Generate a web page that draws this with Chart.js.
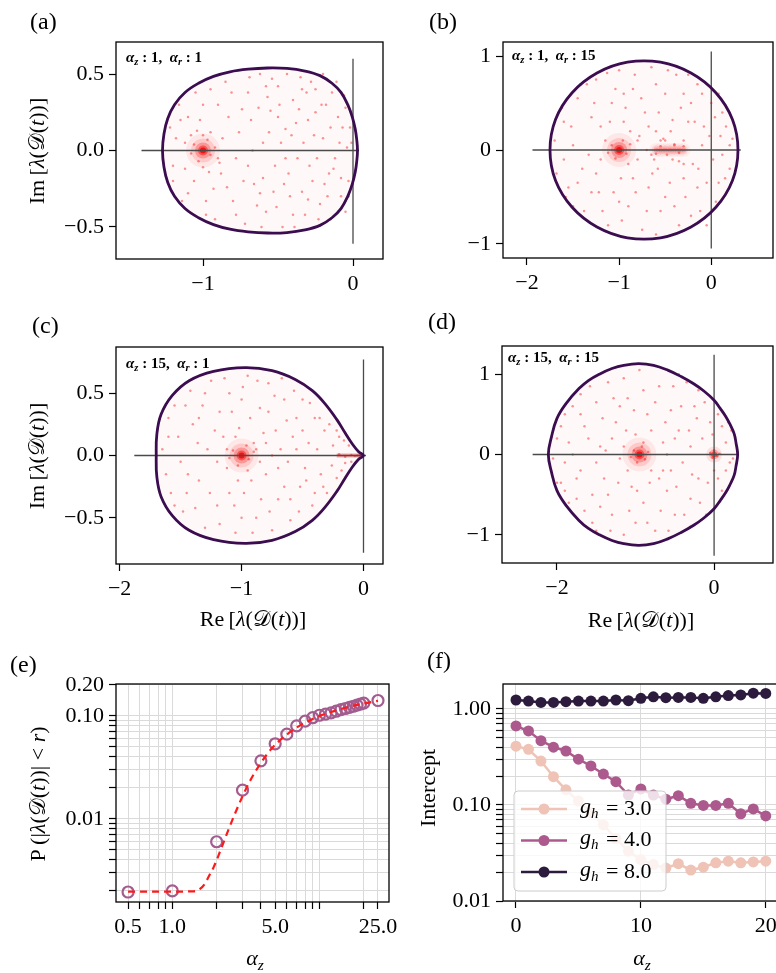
<!DOCTYPE html>
<html>
<head>
<meta charset="utf-8">
<script src="https://cdn.jsdelivr.net/npm/chart.js@4.4.1/dist/chart.umd.min.js"></script>
<style>
  body { margin: 0; width: 776px; height: 973px; overflow: hidden; background: #fff; position: relative;
         font-family: 'Liberation Serif', 'DejaVu Serif', serif; color: #000; }
  .box { position: absolute; }
  .t { position: absolute; white-space: nowrap; line-height: 1; }
  .pl { font-size: 24px; }
  .ax { font-size: 22px; transform: translate(-50%, -50%); }
  .ay { font-size: 22px; transform: translate(-50%, -50%) rotate(-90deg); }
  .an { font-size: 15px; font-weight: bold; }
  sub { font-size: 70%; vertical-align: -0.3em; line-height: 0; }
</style>
</head>
<body>
<div class="box" id="pa"><canvas id="ca"></canvas></div>
<div class="box" id="pb"><canvas id="cb"></canvas></div>
<div class="box" id="pc"><canvas id="cc"></canvas></div>
<div class="box" id="pd"><canvas id="cd"></canvas></div>
<div class="box" id="pe"><canvas id="ce"></canvas></div>
<div class="box" id="pf"><canvas id="cf"></canvas></div>

<div class="t pl" style="left:30px;top:9px">(a)</div>
<div class="t pl" style="left:429px;top:9px">(b)</div>
<div class="t pl" style="left:32px;top:313px">(c)</div>
<div class="t pl" style="left:428px;top:309px">(d)</div>
<div class="t pl" style="left:10px;top:652px">(e)</div>
<div class="t pl" style="left:427px;top:648px">(f)</div>

<div class="t an" style="left:126px;top:50px"><i>α<sub>z</sub></i> : 1, &nbsp;<i>α<sub>r</sub></i> : 1</div>
<div class="t an" style="left:512px;top:48px"><i>α<sub>z</sub></i> : 1, &nbsp;<i>α<sub>r</sub></i> : 15</div>
<div class="t an" style="left:126px;top:356px"><i>α<sub>z</sub></i> : 15, &nbsp;<i>α<sub>r</sub></i> : 1</div>
<div class="t an" style="left:508px;top:350px"><i>α<sub>z</sub></i> : 15, &nbsp;<i>α<sub>r</sub></i> : 15</div>

<div class="t ay" style="left:37px;top:151px">Im&thinsp;[<i>λ</i>(𝒟(<i>t</i>))]</div>
<div class="t ay" style="left:37px;top:456px">Im&thinsp;[<i>λ</i>(𝒟(<i>t</i>))]</div>
<div class="t ax" style="left:253px;top:619px">Re&thinsp;[<i>λ</i>(𝒟(<i>t</i>))]</div>
<div class="t ax" style="left:641px;top:620px">Re&thinsp;[<i>λ</i>(𝒟(<i>t</i>))]</div>
<div class="t ay" style="left:38px;top:794px">P&thinsp;(|<i>λ</i>(𝒟(<i>t</i>))| &lt; <i>r</i>)</div>
<div class="t ay" style="left:428px;top:788px">Intercept</div>
<div class="t ax" style="left:255px;top:958px"><i>α<sub>z</sub></i></div>
<div class="t ax" style="left:642px;top:958px"><i>α<sub>z</sub></i></div>

<script>
// ---- eigenvalue clouds (a)-(d) ----
var dotsA = [[-1.15,0.2],[-1.1,-0.28],[-1.05,0.38],[-0.98,-0.42],[-0.9,0.3],[-0.88,-0.15],[-0.85,0.45],[-0.8,-0.33],[-0.76,0.12],[-0.72,-0.48],[-0.7,0.38],[-0.66,-0.22],[-0.62,0.5],[-0.6,0.05],[-0.58,-0.4],[-0.55,0.26],[-0.52,-0.1],[-0.5,0.42],[-0.47,-0.5],[-0.45,0.14],[-0.42,-0.3],[-0.4,0.33],[-0.37,-0.05],[-0.35,0.48],[-0.32,-0.42],[-0.3,0.2],[-0.27,-0.2],[-0.25,0.4],[-0.22,-0.35],[-0.2,0.08],[-0.18,0.3],[-0.15,-0.45],[-0.13,-0.12],[-0.1,0.22],[-0.08,-0.3],[-0.06,0.36],[-0.04,0.02],[-0.03,-0.2],[-0.02,0.15],[-1.2,-0.1],[-1.18,0.08],[-1.12,-0.12],[-0.95,0.12],[-0.93,-0.25],[-1.02,0.2],[-1.08,0.1],[-0.9,-0.05],[-0.83,0.22],[-0.78,-0.05],[-0.68,0.2],[-0.64,-0.36],[-0.57,0.35],[-0.53,-0.27],[-0.48,0.05],[-0.43,-0.15],[-0.38,0.18],[-0.33,0.05],[-0.28,0.45],[-0.24,-0.05],[-0.19,-0.22],[-0.11,0.45],[-0.09,0.05],[-0.05,-0.4],[-0.7,-0.1],[-0.6,-0.18],[-0.5,0.22],[-0.4,-0.42],[-0.3,-0.32],[-0.2,0.5],[-0.15,0.15],[-1.06,0.04],[-0.95,-0.03],[-1.03,-0.07],[-0.97,0.07],[-1.08,-0.02],[-0.92,0.02],[-1.0,0.1],[-1.0,-0.11],[-1.12,0.05],[-0.89,-0.08],[-1.04,0.13],[-0.96,-0.14],
  [-1.22,0.15],[-1.2,-0.2],[-1.16,0.3],[-1.14,-0.33],[-1.1,0.22],[-1.06,-0.2],[-1.0,0.3],[-0.98,-0.33],[-0.95,0.4],[-0.92,-0.45],[-0.87,0.08],[-0.84,-0.24],[-0.81,0.38],[-0.78,-0.42],[-0.74,0.27],[-0.73,-0.2],[-0.69,0.48],[-0.67,0.0],[-0.63,0.28],[-0.61,-0.5],[-0.56,0.12],[-0.54,0.47],[-0.51,-0.37],[-0.49,0.3],[-0.46,-0.22],[-0.44,0.5],[-0.41,0.1],[-0.39,-0.5],[-0.36,0.27],[-0.34,-0.27],[-0.31,0.38],[-0.29,-0.1],[-0.26,0.1],[-0.23,-0.45],[-0.21,0.3],[-0.17,-0.3],[-0.14,0.38],[-0.12,-0.05],[-0.1,-0.4],[-0.07,0.15],[-0.05,0.28],[-0.03,-0.3],[-0.01,0.05],[-0.62,-0.28],[-0.58,0.42],[-0.45,-0.05],[-0.34,0.4],[-0.25,0.25],[-0.16,-0.15],[-0.08,-0.18]];
var dotsB = [[-1.6,0.3],[-1.55,-0.4],[-1.5,0.05],[-1.45,0.55],[-1.4,-0.2],[-1.38,-0.65],[-1.3,0.35],[-1.25,0.75],[-1.22,-0.45],[-1.15,0.1],[-1.12,-0.8],[-1.08,0.5],[-1.0,0.85],[-0.98,-0.3],[-0.95,0.3],[-0.9,-0.6],[-0.85,0.65],[-0.8,-0.1],[-0.78,0.15],[-0.75,-0.85],[-0.72,0.4],[-0.68,-0.4],[-0.65,0.88],[-0.6,0.2],[-0.58,-0.2],[-0.55,-0.65],[-0.5,0.6],[-0.45,-0.35],[-0.42,0.32],[-0.38,0.8],[-0.35,-0.8],[-0.3,0.1],[-0.28,-0.5],[-0.22,0.5],[-0.2,-0.15],[-0.15,0.7],[-0.12,-0.65],[-0.08,0.25],[-0.05,-0.35],[0.0,0.5],[0.02,-0.1],[0.05,-0.55],[0.1,0.15],[0.12,0.4],[0.15,-0.3],[0.2,0.05],[-1.6,-0.1],[-1.5,-0.6],[-1.35,0.7],[-1.2,-0.1],[-1.1,0.3],[-0.88,0.2],[-0.85,-0.3],[-0.7,0.0],[-0.62,-0.1],[-0.52,0.12],[-0.4,0.05],[-0.35,-0.12],[-0.25,0.3],[-0.15,-0.4],[-0.1,0.05],[0.08,0.6],[-0.95,0.6],[-0.6,-0.9],[-1.0,-0.55],[-0.3,0.6],[-1.08,0.05],[-0.92,-0.04],[-1.04,-0.09],[-0.96,0.1],[-1.12,-0.03],[-0.88,0.06],[-0.55,0.04],[-0.48,-0.05],[-0.4,0.06],[-0.35,-0.03],[-0.5,0.1],[-0.42,-0.1],[-0.6,-0.04],[-0.3,0.04],
  [-1.7,0.1],[-1.68,-0.25],[-1.62,0.45],[-1.58,-0.5],[-1.52,0.25],[-1.45,-0.35],[-1.42,0.7],[-1.33,-0.05],[-1.3,-0.45],[-1.27,0.5],[-1.2,0.25],[-1.18,-0.65],[-1.13,0.82],[-1.06,-0.45],[-1.04,0.65],[-0.97,-0.75],[-0.93,0.45],[-0.9,-0.15],[-0.83,0.8],[-0.82,-0.45],[-0.76,0.55],[-0.7,-0.65],[-0.68,0.25],[-0.64,-0.25],[-0.6,0.7],[-0.57,0.4],[-0.5,-0.5],[-0.47,0.85],[-0.44,0.2],[-0.4,-0.6],[-0.33,0.45],[-0.3,-0.3],[-0.25,0.8],[-0.22,-0.7],[-0.18,0.3],[-0.14,-0.2],[-0.1,0.6],[-0.05,-0.8],[-0.02,0.15],[0.04,0.35],[0.08,-0.35],[0.12,-0.05],[0.16,0.25],[0.2,-0.2],[0.23,0.12],[-0.8,0.1],[-0.55,0.1],[-0.65,-0.05],[-0.3,-0.15],[-1.25,-0.25]];
var dotsC = [[-1.6,0.15],[-1.58,-0.3],[-1.55,0.4],[-1.5,-0.05],[-1.48,-0.45],[-1.42,0.52],[-1.4,0.25],[-1.35,-0.2],[-1.3,-0.58],[-1.28,0.05],[-1.25,0.6],[-1.2,-0.4],[-1.18,0.35],[-1.12,-0.1],[-1.1,0.5],[-1.05,-0.62],[-1.02,0.22],[-0.98,-0.3],[-0.95,0.64],[-0.9,0.1],[-0.88,-0.5],[-0.85,0.38],[-0.8,-0.15],[-0.78,0.58],[-0.75,-0.6],[-0.72,0.2],[-0.7,-0.35],[-0.65,0.45],[-0.62,-0.05],[-0.6,-0.52],[-0.55,0.3],[-0.52,-0.25],[-0.5,0.45],[-0.45,0.1],[-0.42,-0.4],[-0.4,0.3],[-0.35,-0.15],[-0.32,0.2],[-0.3,-0.3],[-0.25,0.08],[-0.22,-0.18],[-0.2,0.15],[-0.15,-0.06],[-0.12,0.08],[-1.45,-0.3],[-1.32,0.4],[-1.15,0.15],[-1.1,-0.3],[-0.85,-0.05],[-0.82,0.18],[-0.68,0.05],[-0.58,0.15],[-0.48,-0.1],[-1.0,0.45],[-1.0,-0.5],[-0.92,-0.2],[-0.65,-0.25],[-0.38,0.05],[-1.2,-0.05],[-0.78,0.35],[-1.07,0.04],[-0.94,-0.03],[-1.03,-0.08],[-0.96,0.08],[-1.1,-0.02],[-0.9,0.03],[-0.2,0.01],[-0.15,-0.01],[-0.1,0.005],[-0.07,-0.005],[-0.05,0.0],[-0.03,0.003],
  [-1.65,0.05],[-1.62,-0.15],[-1.6,0.3],[-1.55,-0.4],[-1.52,0.15],[-1.46,0.4],[-1.44,-0.15],[-1.38,-0.42],[-1.36,0.1],[-1.3,0.5],[-1.26,-0.3],[-1.22,0.2],[-1.18,-0.55],[-1.14,0.62],[-1.08,0.35],[-1.06,-0.4],[-1.03,-0.2],[-0.99,0.55],[-0.93,0.3],[-0.91,-0.62],[-0.87,0.6],[-0.84,-0.35],[-0.8,0.1],[-0.77,-0.45],[-0.73,0.48],[-0.7,-0.1],[-0.67,0.62],[-0.63,0.28],[-0.6,-0.35],[-0.57,0.52],[-0.53,-0.45],[-0.5,0.2],[-0.47,-0.2],[-0.44,0.42],[-0.4,-0.3],[-0.36,0.3],[-0.33,-0.25],[-0.28,0.25],[-0.26,-0.08],[-0.22,0.2],[-0.18,-0.12],[-0.16,0.12],[-0.1,-0.05],[-1.12,0.05],[-0.88,0.05],[-1.05,0.15],[-0.95,-0.12],[-0.75,0.0],[-1.35,0.3],[-0.55,0.05]];
var dotsD = [[-2.0,0.2],[-1.95,-0.35],[-1.9,0.5],[-1.85,-0.6],[-1.8,0.0],[-1.7,0.75],[-1.7,-0.2],[-1.65,0.35],[-1.55,-0.85],[-1.55,-0.5],[-1.5,0.65],[-1.45,0.1],[-1.4,-0.3],[-1.35,0.9],[-1.3,-0.75],[-1.25,0.4],[-1.2,-0.05],[-1.15,-1.0],[-1.1,0.7],[-1.05,-0.4],[-1.0,0.25],[-0.95,1.05],[-0.9,-0.6],[-0.85,0.5],[-0.8,-0.2],[-0.75,-0.95],[-0.7,0.85],[-0.65,0.15],[-0.6,-0.45],[-0.55,0.55],[-0.5,-0.75],[-0.45,0.3],[-0.4,-0.1],[-0.35,0.9],[-0.3,-0.55],[-0.25,0.6],[-0.2,-0.3],[-0.15,0.2],[-0.1,-0.75],[-0.05,0.4],[0.0,-0.2],[0.05,0.5],[0.1,-0.45],[0.15,0.15],[0.2,-0.1],[0.22,0.3],[-1.9,-0.1],[-1.7,0.5],[-1.5,-0.1],[-1.3,0.2],[-1.2,0.6],[-1.1,-0.2],[-0.9,0.15],[-0.8,0.3],[-0.7,-0.3],[-0.6,0.0],[-0.5,0.2],[-0.3,0.1],[-1.0,-0.85],[-0.55,-0.2],[-1.35,-0.5],[-0.2,0.8],[-1.02,0.05],[-0.88,-0.06],[-0.98,-0.1],[-0.92,0.1],[-1.06,-0.03],[-0.84,0.03],[-0.05,0.02],[0.04,-0.02],[0.0,0.05],[-0.02,-0.04],[0.07,0.01],
  [-2.05,-0.05],[-2.0,-0.35],[-1.95,0.35],[-1.9,-0.45],[-1.85,0.15],[-1.8,0.6],[-1.75,-0.55],[-1.65,-0.7],[-1.6,0.2],[-1.58,0.85],[-1.45,-0.65],[-1.42,0.45],[-1.38,0.05],[-1.32,-0.95],[-1.28,0.7],[-1.22,-0.35],[-1.15,0.95],[-1.12,0.3],[-1.08,-0.7],[-1.02,0.55],[-0.98,-0.45],[-0.9,0.8],[-0.85,-0.85],[-0.82,-0.35],[-0.75,0.65],[-0.68,-0.7],[-0.62,0.4],[-0.58,-0.95],[-0.52,0.85],[-0.48,-0.4],[-0.42,0.6],[-0.38,-0.75],[-0.32,0.3],[-0.28,-0.25],[-0.22,0.45],[-0.18,-0.6],[-0.12,0.65],[-0.08,-0.35],[-0.02,0.25],[0.05,-0.3],[0.1,0.35],[0.15,-0.2],[0.18,0.4],[0.24,-0.05],[-0.45,1.0],[-1.5,-0.95],[-1.75,-0.3],[-0.3,-0.9],[-0.65,-0.2],[-1.15,0.1]];

// dense centres of the clouds
var hotA = [[-1, 0]];
var hotB = [[-1, 0]];
var hotB2 = [[-0.6, 0], [-0.55, 0], [-0.5, 0], [-0.45, 0], [-0.4, 0], [-0.35, 0], [-0.3, 0]];
var hotC = [[-1, 0]];
var bandC = [[-0.22, 0], [0, 0]];
var hotD = [[-0.95, 0]];
var hotD2 = [[0, 0]];

// boundary curves (closed loops, last point joins the first)
var bndA = [[0.03,0],[0.025,0.07],[0.015,0.14],[-0.005,0.22],[-0.035,0.3],[-0.08,0.38],[-0.14,0.44],[-0.22,0.49],[-0.32,0.52],[-0.44,0.537],[-0.57,0.54],[-0.7,0.532],[-0.82,0.515],[-0.93,0.485],[-1.03,0.44],[-1.12,0.38],[-1.19,0.3],[-1.235,0.21],[-1.26,0.11],[-1.27,0],
  [-1.26,-0.11],[-1.235,-0.21],[-1.19,-0.3],[-1.12,-0.38],[-1.03,-0.44],[-0.93,-0.485],[-0.82,-0.515],[-0.7,-0.532],[-0.57,-0.54],[-0.44,-0.537],[-0.32,-0.52],[-0.22,-0.49],[-0.14,-0.44],[-0.08,-0.38],[-0.035,-0.3],[-0.005,-0.22],[0.015,-0.14],[0.025,-0.07]];
var bndB = [[0.29,0],[0.23,0.325],[0.05,0.61],[-0.22,0.82],[-0.55,0.935],[-0.91,0.935],[-1.24,0.82],[-1.51,0.61],[-1.69,0.325],[-1.75,0],[-1.69,-0.325],[-1.51,-0.61],[-1.24,-0.82],[-0.91,-0.935],[-0.55,-0.935],[-0.22,-0.82],[0.05,-0.61],[0.23,-0.325]];
var bndC = [[0,0],[-0.04,0.03],[-0.09,0.09],[-0.15,0.18],[-0.22,0.29],[-0.32,0.42],[-0.42,0.52],[-0.56,0.61],[-0.75,0.68],[-0.97,0.705],[-1.23,0.675],[-1.43,0.6],[-1.57,0.48],[-1.66,0.33],[-1.695,0.17],[-1.7,0],[-1.695,-0.17],[-1.66,-0.33],[-1.57,-0.48],[-1.43,-0.6],[-1.23,-0.675],[-0.97,-0.705],[-0.75,-0.68],[-0.56,-0.61],[-0.42,-0.52],[-0.32,-0.42],[-0.22,-0.29],[-0.15,-0.18],[-0.09,-0.09],[-0.04,-0.03]];
var bndD = [[0.3,0],[0.28,0.14],[0.255,0.26],[0.2,0.38],[0.15,0.47],[0.08,0.57],[0,0.675],[-0.13,0.79],[-0.26,0.88],[-0.42,0.97],[-0.59,1.05],[-0.77,1.11],[-0.96,1.13],[-1.15,1.11],[-1.3,1.07],[-1.46,1.0],[-1.6,0.92],[-1.72,0.82],[-1.88,0.64],[-2.0,0.45],[-2.07,0.22],[-2.11,0],
  [-2.07,-0.22],[-2.0,-0.45],[-1.88,-0.64],[-1.72,-0.82],[-1.6,-0.92],[-1.46,-1.0],[-1.3,-1.07],[-1.15,-1.11],[-0.96,-1.13],[-0.77,-1.11],[-0.59,-1.05],[-0.42,-0.97],[-0.26,-0.88],[-0.13,-0.79],[0,-0.675],[0.08,-0.57],[0.15,-0.47],[0.2,-0.38],[0.255,-0.26],[0.28,-0.14]];

// reference axes drawn inside (a)-(d)
var hLineA = [[-1.41,0],[0.04,0]], vLineA = [[0,0.6],[0,-0.61]];
var hLineB = [[-1.94,0],[0.32,0]], vLineB = [[0,1.05],[0,-1.05]];
var hLineC = [[-1.88,0],[0.02,0]], vLineC = [[0,0.77],[0,-0.78]];
var hLineD = [[-2.31,0],[0.31,0]], vLineD = [[0,1.24],[0,-1.26]];

// ---- (e) ----
var azE = [0.5,1,2,3,4,5,6,7,8,9,10,11,12,13,14,15,16,17,18,19,20,25];
var probE = [0.00195,0.002,0.006,0.019,0.0366,0.0536,0.0665,0.080,0.089,0.096,0.1015,0.104,0.107,0.111,0.115,0.118,0.121,0.124,0.127,0.130,0.133,0.141];
var fitX = [0.5,1.0,1.39,1.55,1.68,1.8,1.91,2.13,2.36,2.62,2.99,3.4,3.98,4.66,5.18,6,7,8,10,12,15,20,25];
var fitY = [0.00197,0.00197,0.00198,0.0021,0.0024,0.0029,0.0034,0.005,0.0073,0.0106,0.0164,0.0239,0.0346,0.047,0.055,0.066,0.077,0.086,0.1,0.109,0.12,0.132,0.14];
var xTicksE = [0.5,0.6,0.7,0.8,0.9,1,2,3,4,5,6,7,8,9,10,20,25];
var xLabelsE = ['0.5','','','','','1.0','','','','5.0','','','','','','','25.0'];
var yTicksE = [0.002,0.003,0.004,0.005,0.006,0.007,0.008,0.009,0.01,0.02,0.03,0.04,0.05,0.06,0.07,0.08,0.09,0.1,0.2];
var yLabelsE = ['','','','','','','','','0.01','','','','','','','','','0.10','0.20'];

// ---- (f) ----
var azF = [0,1,2,3,4,5,6,7,8,9,10,11,12,13,14,15,16,17,18,19,20];
var g3 = [0.41,0.38,0.287,0.197,0.144,0.11,0.083,0.062,0.045,0.033,0.027,0.024,0.022,0.0245,0.021,0.0225,0.025,0.026,0.025,0.0255,0.026];
var g4 = [0.665,0.59,0.468,0.40,0.365,0.30,0.255,0.21,0.175,0.127,0.147,0.127,0.115,0.125,0.104,0.099,0.099,0.104,0.081,0.091,0.077];
var g8 = [1.24,1.21,1.17,1.17,1.19,1.21,1.21,1.21,1.24,1.22,1.29,1.34,1.31,1.32,1.32,1.29,1.34,1.38,1.40,1.46,1.45];
var seriesF = [['3.0', g3, '#efc3b6'], ['4.0', g4, '#ac5a8d'], ['8.0', g8, '#2c1b3d']];
var xTicksF = [0,10,20];
var yTicksF = [0.01,0.02,0.03,0.04,0.05,0.06,0.07,0.08,0.09,0.1,0.2,0.3,0.4,0.5,0.6,0.7,0.8,0.9,1];
var yLabelsF = ['0.01','','','','','','','','','0.10','','','','','','','','','1.00'];

var FONT = "'Liberation Serif', 'DejaVu Serif', serif";
var TICKFONT = { family: FONT, size: 22 };
var minus = function(s) { return String(s).replace('-', '\u2212'); };

var framePlugin = {
  id: 'frame',
  afterDraw: function(c) {
    var a = c.chartArea, ctx = c.ctx;
    ctx.save();
    ctx.strokeStyle = '#000';
    ctx.lineWidth = 1.3;
    ctx.strokeRect(a.left, a.top, a.right - a.left, a.bottom - a.top);
    ctx.restore();
  }
};

// join the ends of the boundary curves so the spline runs smoothly round
var loopPlugin = {
  id: 'loop',
  afterDatasetUpdate: function(c, args) {
    if (c.data.datasets[args.index].closed && args.meta.dataset) {
      args.meta.dataset._loop = true;
      args.meta.dataset._fullLoop = true;
    }
  }
};

function axis(type, pos, min, max, ticks, fmt, gridOn) {
  return {
    type: type, position: pos, min: min, max: max,
    afterBuildTicks: function(s) { s.ticks = ticks.map(function(v) { return { value: v }; }); },
    ticks: { callback: fmt, font: TICKFONT, color: '#000', padding: 5, autoSkip: false, maxRotation: 0 },
    grid: { drawOnChartArea: !!gridOn, color: '#dadada', lineWidth: 1, tickLength: 7, tickColor: '#000', tickWidth: 1.2 },
    border: { display: false }
  };
}

function make(id, canvasId, box, area, scales, datasets, plugins) {
  var el = document.getElementById(id);
  el.style.left = box[0] + 'px'; el.style.top = box[1] + 'px';
  el.style.width = box[2] + 'px'; el.style.height = box[3] + 'px';
  var yw = area[0] - box[0], xh = box[1] + box[3] - area[3];
  scales.x.afterFit = function(s) { s.height = xh; s.paddingLeft = s.paddingRight = s.paddingTop = s.paddingBottom = 0; };
  scales.y.afterFit = function(s) { s.width = yw; s.paddingLeft = s.paddingRight = s.paddingTop = s.paddingBottom = 0; };
  return new Chart(document.getElementById(canvasId), {
    type: 'scatter',
    data: { datasets: datasets },
    options: {
      responsive: true, maintainAspectRatio: false, animation: false, events: [],
      layout: { padding: { top: area[1] - box[1], right: box[0] + box[2] - area[2], left: 0, bottom: 0 } },
      plugins: { legend: { display: false }, tooltip: { enabled: false }, filler: { drawTime: 'beforeDatasetsDraw' } },
      scales: scales
    },
    plugins: [framePlugin, loopPlugin].concat(plugins || [])
  });
}

function curve(data) {
  return { data: data, closed: true, showLine: true, borderColor: '#3b0c4f', borderWidth: 2.8, tension: 0.4,
           pointRadius: 0, fill: 'shape', backgroundColor: 'rgba(255,0,0,0.028)' };
}
function refLine(data) {
  return { data: data, showLine: true, borderColor: '#4a4a4a', borderWidth: 1.3, pointRadius: 0, fill: false };
}
function blob(data, layers) {
  return layers.map(function(l) {
    return { data: data, pointRadius: l[0], borderWidth: 0, backgroundColor: 'rgba(245,0,0,' + l[1] + ')' };
  });
}
function dots(data) {
  return { data: data, pointRadius: 1.25, borderWidth: 0, backgroundColor: 'rgba(245,60,60,0.55)' };
}
var BIG = [[17,0.07],[12,0.13],[8,0.25],[5,0.45],[3,0.8]];
var SMALL = [[8,0.1],[5,0.25],[3,0.55]];
var STREAK = [[7,0.05],[4.5,0.1],[2.5,0.2]];

var fmt1 = function(v) { return minus(v.toFixed(1)); };
var fmt0 = function(v) { return minus(v.toFixed(0)); };

// (a)
make('pa', 'ca', [0, 0, 400, 300], [116, 42, 389, 259],
  { x: axis('linear', 'bottom', -1.58, 0.2, [-1, 0], fmt0), y: axis('linear', 'left', -0.71, 0.71, [-0.5, 0, 0.5], fmt1) },
  [curve(bndA), refLine(hLineA), refLine(vLineA)].concat(blob(hotA, BIG), [dots(dotsA)]));

// (b)
make('pb', 'cb', [390, 0, 400, 300], [503, 42, 782, 258],
  { x: axis('linear', 'bottom', -2.26, 0.67, [-2, -1, 0], fmt0), y: axis('linear', 'left', -1.15, 1.15, [-1, 0, 1], fmt0) },
  [curve(bndB), refLine(hLineB), refLine(vLineB)].concat(blob(hotB, BIG), blob(hotB2, STREAK), [dots(dotsB)]));

// (c)
make('pc', 'cc', [0, 300, 400, 340], [116, 347, 389, 564],
  { x: axis('linear', 'bottom', -2.03, 0.16, [-2, -1, 0], fmt0), y: axis('linear', 'left', -0.87, 0.87, [-0.5, 0, 0.5], fmt1) },
  [curve(bndC), refLine(hLineC), refLine(vLineC),
   { data: bandC, showLine: true, borderColor: 'rgba(245,0,0,0.35)', borderWidth: 4, pointRadius: 0, fill: false }]
  .concat(blob(hotC, BIG), [dots(dotsC)]));

// (d)
make('pd', 'cd', [390, 300, 400, 340], [502, 346, 782, 563],
  { x: axis('linear', 'bottom', -2.70, 0.75, [-2, 0], fmt0), y: axis('linear', 'left', -1.35, 1.35, [-1, 0, 1], fmt0) },
  [curve(bndD), refLine(hLineD), refLine(vLineD)].concat(blob(hotD, BIG), blob(hotD2, SMALL), [dots(dotsD)]));

// (e)
make('pe', 'ce', [0, 640, 400, 333], [116, 684, 389, 902],
  { x: axis('logarithmic', 'bottom', 0.414, 29.7, xTicksE, function(v, i) { return xLabelsE[i]; }, true),
    y: axis('logarithmic', 'left', 0.00156, 0.204, yTicksE, function(v, i) { return yLabelsE[i]; }, true) },
  [
    { data: fitX.map(function(x, i) { return { x: x, y: fitY[i] }; }), showLine: true, borderColor: '#ff1a1a',
      borderWidth: 2.2, borderDash: [7, 5], pointRadius: 0, cubicInterpolationMode: 'monotone', fill: false },
    { data: azE.map(function(x, i) { return { x: x, y: probE[i] }; }), pointRadius: 5.5, borderWidth: 2.2,
      borderColor: '#a35c8f', backgroundColor: 'rgba(0,0,0,0)' }
  ]);

// (f)
var legendPlugin = {
  id: 'legendF',
  afterDraw: function(c) {
    var a = c.chartArea, ctx = c.ctx;
    var x0 = a.left + 11, y0 = a.bottom - 110, w = 152, h = 100;
    ctx.save();
    ctx.fillStyle = 'rgba(255,255,255,0.8)';
    ctx.strokeStyle = '#cccccc';
    ctx.lineWidth = 1;
    ctx.beginPath();
    ctx.roundRect(x0, y0, w, h, 4);
    ctx.fill(); ctx.stroke();
    seriesF.forEach(function(s, i) {
      var yy = y0 + 18 + i * 31.5;
      ctx.strokeStyle = s[2]; ctx.fillStyle = s[2]; ctx.lineWidth = 2.5;
      ctx.beginPath(); ctx.moveTo(x0 + 7, yy); ctx.lineTo(x0 + 53, yy); ctx.stroke();
      ctx.beginPath(); ctx.arc(x0 + 30, yy, 5.5, 0, Math.PI * 2); ctx.fill();
      ctx.fillStyle = '#000';
      ctx.textBaseline = 'middle';
      ctx.font = 'italic 22px ' + FONT;
      ctx.fillText('g', x0 + 66, yy - 2);
      ctx.font = 'italic 15px ' + FONT;
      ctx.fillText('h', x0 + 77, yy + 5);
      ctx.font = '22px ' + FONT;
      ctx.fillText('= ' + s[0], x0 + 92, yy);
    });
    ctx.restore();
  }
};
make('pf', 'cf', [390, 640, 400, 333], [503, 684, 782, 901],
  { x: axis('linear', 'bottom', -1.04, 21.3, xTicksF, fmt0, true),
    y: axis('logarithmic', 'left', 0.01, 1.82, yTicksF, function(v, i) { return yLabelsF[i]; }, true) },
  seriesF.slice().reverse().map(function(s) {
    return { data: azF.map(function(x, i) { return { x: x, y: s[1][i] }; }), showLine: true, borderColor: s[2],
             backgroundColor: s[2], borderWidth: 2.5, pointRadius: 5.5, pointBorderWidth: 0, fill: false };
  }),
  [legendPlugin]);
</script>
</body>
</html>
